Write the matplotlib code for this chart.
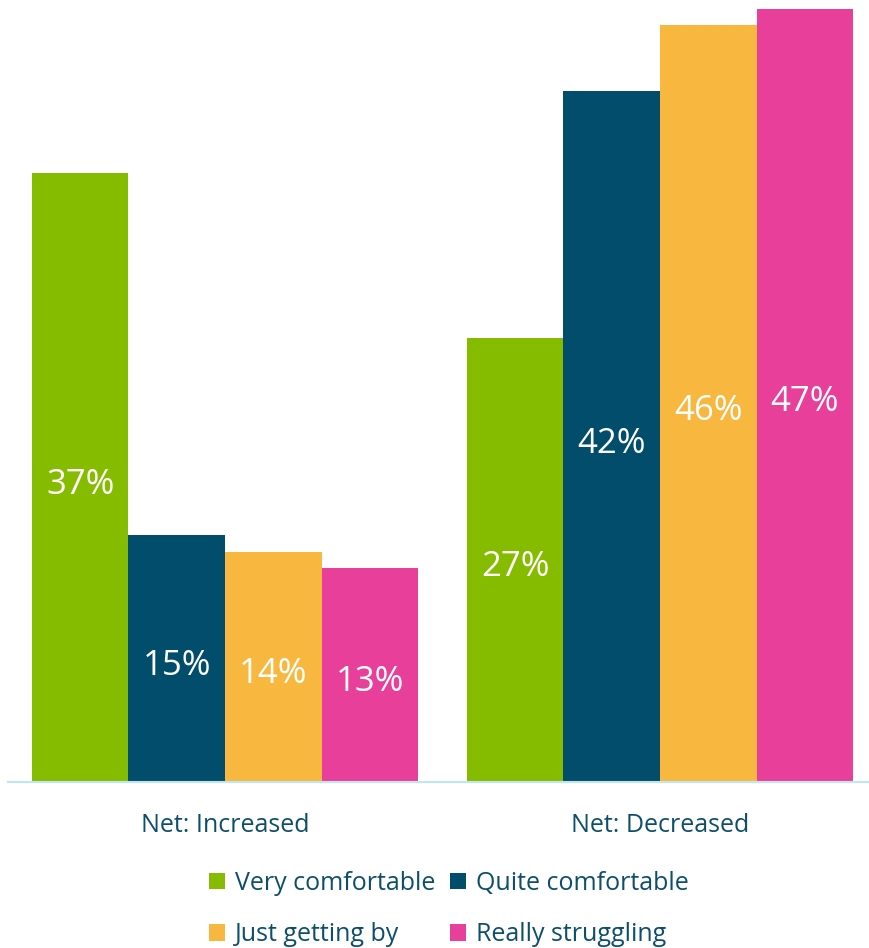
import matplotlib
matplotlib.use("Agg")
import numpy as np
import matplotlib.pyplot as plt
from matplotlib.patches import Patch

# ---- data ----
groups = ["Net: Increased", "Net: Decreased"]
segments = ["Very comfortable", "Quite comfortable", "Just getting by", "Really struggling"]
very_comfortable = [37, 27]
quite_comfortable = [15, 42]
just_getting_by = [14, 46]
really_struggling = [13, 47]
series = [very_comfortable, quite_comfortable, just_getting_by, really_struggling]
colors = ["#86BC00", "#024D6B", "#F8B83F", "#E8409A"]

TEXT_COLOR = "#0D4F6B"
plt.rcParams["font.family"] = ["Open Sans", "DejaVu Sans"]

fig = plt.figure(figsize=(8.69, 9.48), dpi=100)
W, H = 869, 948
# axes placed in pixel terms: baseline at y=782, x=-0.5 at px 7.5, 1 unit = 435 px
ax = fig.add_axes([7.5 / W, 1 - 782 / H, 870 / W, 773 / H])

x = np.arange(len(groups))
bw = 0.222
offsets = (np.arange(len(series)) - 1.5) * bw

for vals, off, col, name in zip(series, offsets, colors, segments):
    bars = ax.bar(x + off, vals, width=bw, color=col, label=name, linewidth=0)
    for b, v in zip(bars, vals):
        # baseline a little below the bar middle so the digits sit centred
        ax.annotate(f"{v}%", (b.get_x() + b.get_width() / 2, v / 2),
                    xytext=(0, -11.5), textcoords="offset points",
                    ha="center", va="baseline", color="white", fontsize=25)

ax.set_xlim(-0.5, 1.5)
ax.set_ylim(0, 47)
ax.set_yticks([])
ax.set_xticks(x)
ax.set_xticklabels(groups, fontsize=18, color=TEXT_COLOR)
ax.tick_params(axis="x", length=0, pad=22)
for side in ("top", "right", "left"):
    ax.spines[side].set_visible(False)
ax.spines["bottom"].set_color("#BFE6F5")
ax.spines["bottom"].set_linewidth(1.5)

# legend fills column-first, so order entries to read row by row
order = [0, 2, 1, 3]
handles = [Patch(facecolor=colors[i], edgecolor="none") for i in order]
labels = [segments[i] for i in order]
leg = fig.legend(handles, labels, ncol=2, loc="center",
                 bbox_to_anchor=(449 / W, 1 - 909 / H),
                 frameon=False, fontsize=18, handlelength=0.64, handleheight=0.64,
                 handletextpad=0.4, columnspacing=0.6, labelspacing=1.05,
                 borderpad=0)
for t in leg.get_texts():
    t.set_color(TEXT_COLOR)

fig.savefig("out.png", dpi=100)
